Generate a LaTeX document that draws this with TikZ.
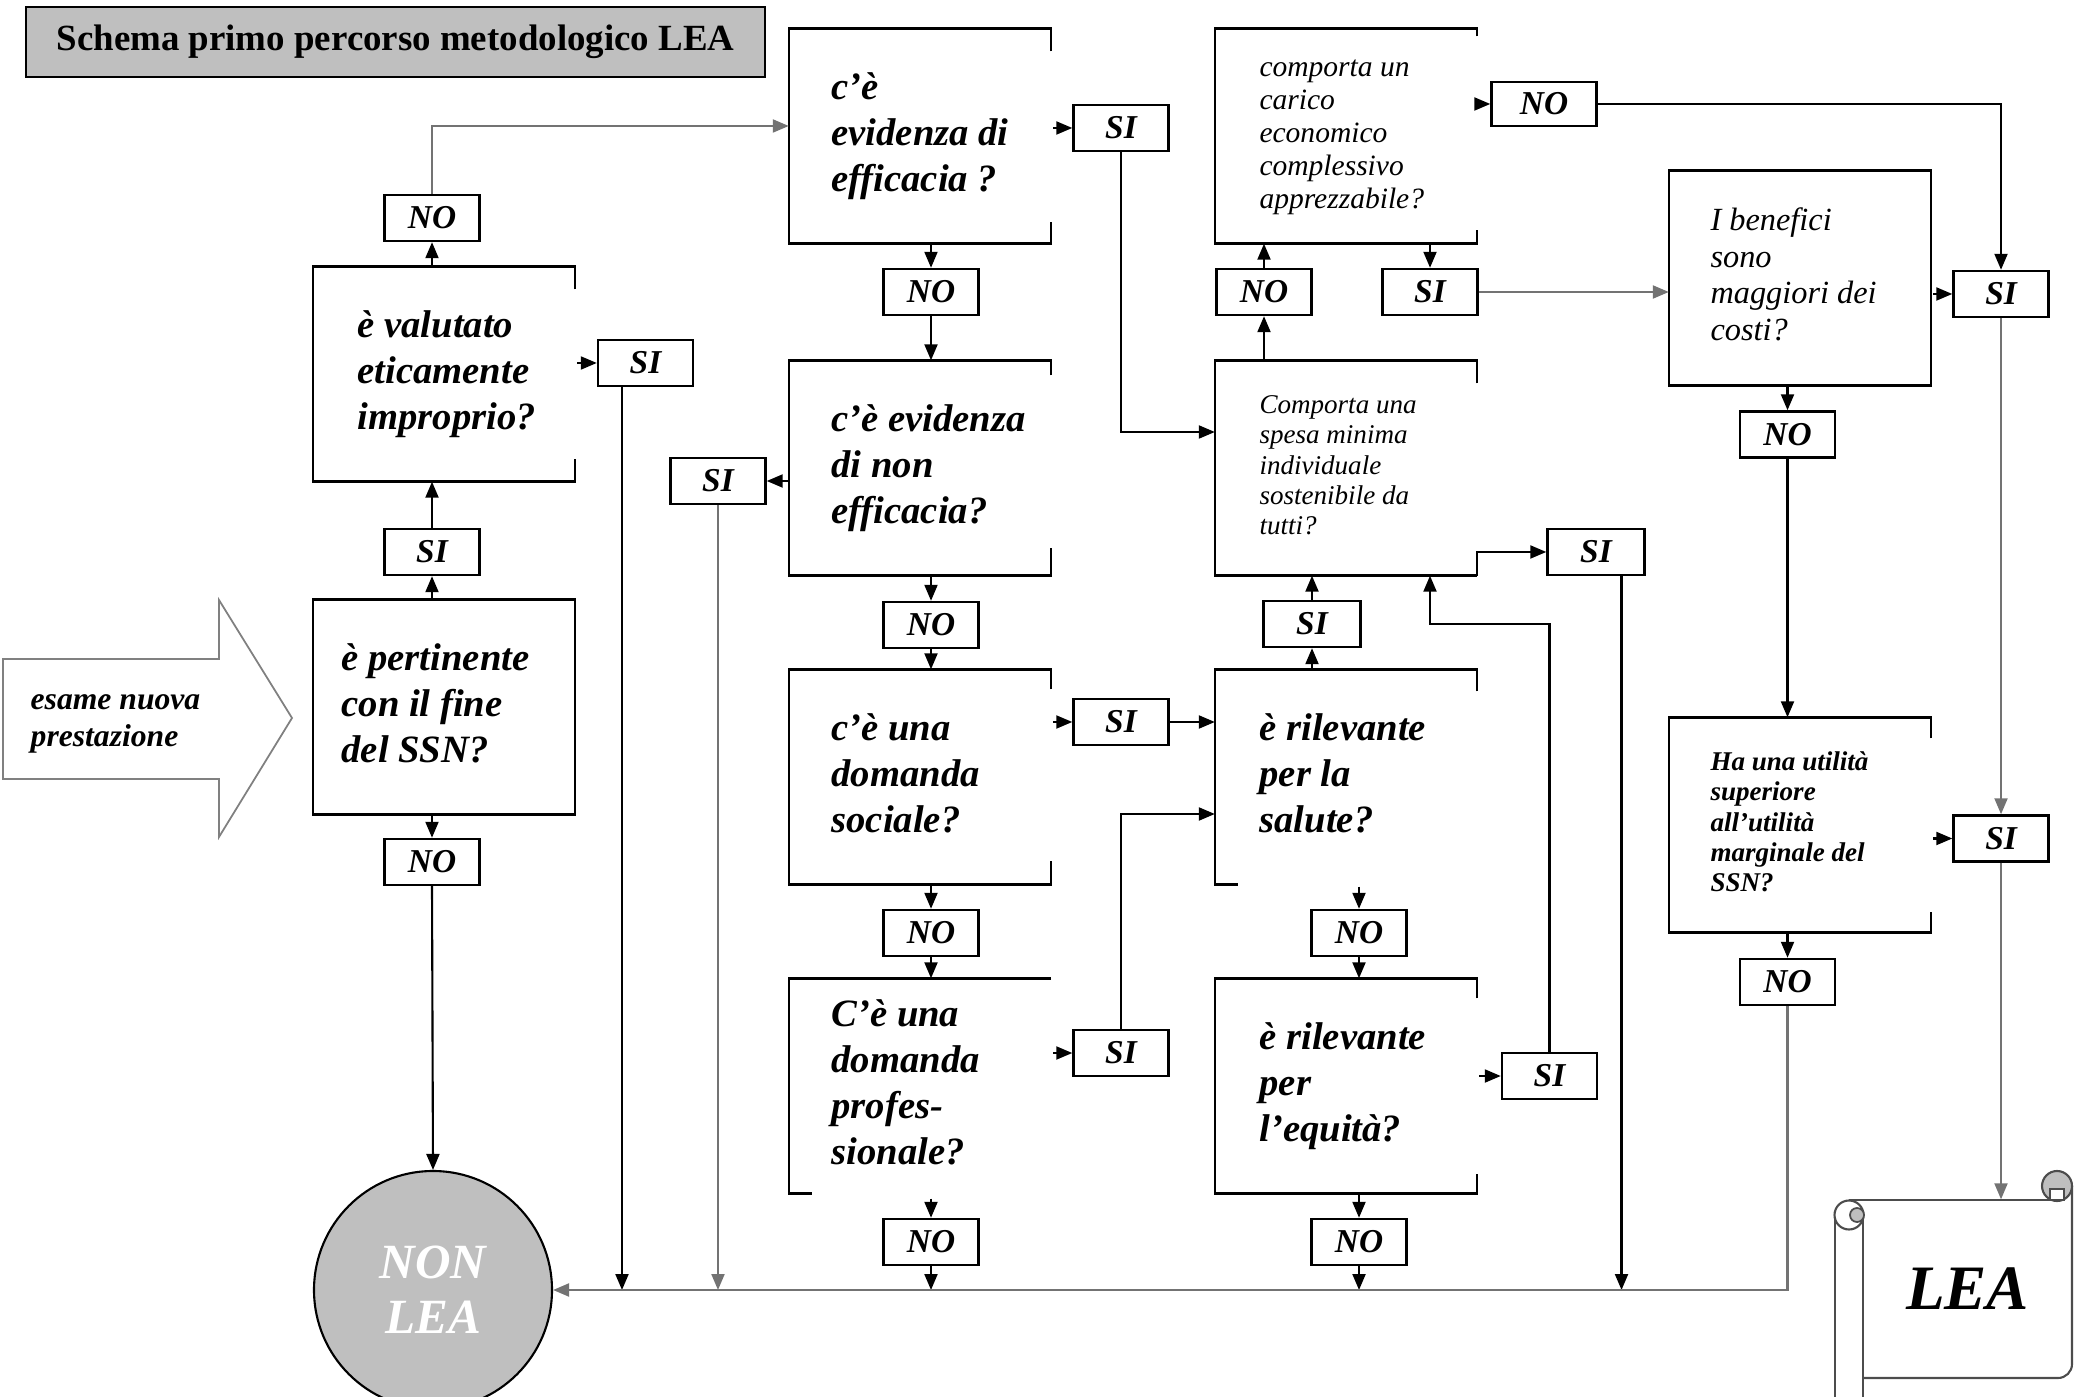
\documentclass[tikz,border=0pt]{standalone}
\usepackage{fontspec}
\setmainfont{Liberation Serif}
\usetikzlibrary{arrows.meta,calc}
\definecolor{grigio}{gray}{0.75}
\def\testo#1#2{\hspace*{#1}\makebox[\dimexpr26.1mm-#1\relax][l]{\begin{tabular}{@{}l@{}}#2\end{tabular}}}
\def\aperto(#1)(#2:#3){\draw[bordo] ([yshift=-#2]#1.north east) -- (#1.north east) -- (#1.north west) -- (#1.south west) -- (#1.south east) -- ([yshift=#3]#1.south east);}
\tikzset{
	bordo/.style={line width=0.7pt},
	domanda/.style={minimum width=26.1mm, minimum height=21.4mm, inner sep=0pt, font=\fontsize{11}{13.1}\selectfont\bfseries\itshape},
	risposta/.style={draw, bordo, minimum width=9.5mm, minimum height=4.6mm, inner sep=0pt, font=\fontsize{9.5}{10}\selectfont\bfseries\itshape},
	freccia/.style={line width=0.6pt, -{Triangle[length=1.6mm,width=1.3mm]}},
	grigia/.style={draw=black!55},
}
\begin{document}
\begin{tikzpicture}[x=0.1mm,y=-0.1mm]
			%%%%% START %%%%%
			\useasboundingbox (0,0) rectangle (2074,1397);
			
			\node[draw, bordo, fill=grigio, minimum width=73.9mm, minimum height=7mm, inner sep=0pt, font=\fontsize{10.5}{12}\selectfont\bfseries] (titolo) at (395.5,42) {Schema primo percorso metodologico LEA};
			
			\draw[line width=0.5pt, draw=black!50, fill=white] (3,659) -- (219,659) -- (219,600) -- (292,718) -- (219,837) -- (219,779) -- (3,779) -- cycle;
			\node[anchor=west, align=left, inner sep=0pt, font=\fontsize{9}{10.5}\selectfont\bfseries\itshape] (esame) at (30,724) {esame nuova\\prestazione};
			
			% domande
			\node[domanda] (pertinente) at (444,707) {\testo{2.8mm}{è pertinente\\con il fine\\del SSN?}};
			\node[domanda] (etico) at (444,374) {\testo{4.4mm}{è valutato\\eticamente\\improprio?}};
			\node[domanda] (efficacia) at (920,136) {\testo{4.2mm}{c’è\\evidenza di\\efficacia ?}};
			\node[domanda] (nonefficacia) at (920,468) {\testo{4.2mm}{\raisebox{1mm}{\begin{tabular}{@{}l@{}}c’è evidenza\\di non\\efficacia?\end{tabular}}}};
			\node[domanda] (sociale) at (920,777) {\testo{4.2mm}{c’è una\\domanda\\sociale?}};
			\node[domanda] (professionale) at (920,1086) {\testo{4.2mm}{C’è una\\domanda\\profes-\\sionale?}};
			\node[domanda, font=\fontsize{8.4}{9.4}\selectfont\itshape] (carico) at (1346,136) {\testo{4.4mm}{comporta un\\carico\\economico\\complessivo\\apprezzabile?}};
			\node[domanda, font=\fontsize{7.7}{8.6}\selectfont\itshape] (spesa) at (1346,468) {\testo{4.4mm}{Comporta una\\spesa minima\\individuale\\sostenibile da\\tutti?}};
			\node[domanda] (salute) at (1346,777) {\testo{4.4mm}{è rilevante\\per la\\salute?}};
			\node[domanda] (equita) at (1346,1086) {\testo{4.4mm}{è rilevante\\per\\l’equità?}};
			\node[domanda, font=\fontsize{9.2}{10.4}\selectfont\itshape] (benefici) at (1800,278) {\testo{4.1mm}{I benefici\\sono\\maggiori dei\\costi?}};
			\node[domanda, font=\fontsize{7.7}{8.6}\selectfont\bfseries\itshape] (utilita) at (1800,825) {\testo{4.1mm}{Ha una utilità\\superiore\\all’utilità\\marginale del\\SSN?}};
			
			\draw[bordo] (pertinente.north west) rectangle (pertinente.south east);
			\draw[bordo] (benefici.north west) rectangle (benefici.south east);
			\aperto(etico)(2.3mm:2.3mm)
			\aperto(efficacia)(2.3mm:2.2mm)
			\aperto(nonefficacia)(1.5mm:2.8mm)
			\aperto(sociale)(2.0mm:2.4mm)
			\aperto(carico)(0.8mm:1.4mm)
			\aperto(equita)(2.0mm:2.0mm)
			\aperto(utilita)(2.1mm:2.1mm)
			\draw[bordo] ([yshift=-2.3mm]spesa.north east) -- (spesa.north east) -- (spesa.north west) -- (spesa.south west) -- (spesa.south east);
			\draw[bordo] ([yshift=-2.2mm]salute.north east) -- (salute.north east) -- (salute.north west) -- (salute.south west) -- ([xshift=2.3mm]salute.south west);
			\draw[bordo] (professionale.north east) -- (professionale.north west) -- (professionale.south west) -- ([xshift=2.3mm]professionale.south west);
			
			% risposte
			\node[risposta] (siPert) at (432,552) {SI};
			\node[risposta] (noPert) at (432,862) {NO};
			\node[risposta] (noEtico) at (432,218) {NO};
			\node[risposta] (siEtico) at (645.5,363) {SI};
			\node[risposta] (siEff) at (1121,128) {SI};
			\node[risposta] (noEff) at (931,292) {NO};
			\node[risposta] (siNonEff) at (718,481) {SI};
			\node[risposta] (noNonEff) at (931,625) {NO};
			\node[risposta] (siSoc) at (1121,722) {SI};
			\node[risposta] (noSoc) at (931,933) {NO};
			\node[risposta] (siProf) at (1121,1053) {SI};
			\node[risposta] (noProf) at (931,1242) {NO};
			\node[risposta, minimum width=10.5mm, minimum height=4.4mm] (noCarico) at (1544,104) {NO};
			\node[risposta] (siCarico) at (1430,292) {SI};
			\node[risposta] (noSpesa) at (1264,292) {NO};
			\node[risposta, minimum width=9.7mm] (siSpesa) at (1596,552) {SI};
			\node[risposta, minimum width=9.7mm] (siSalute) at (1312,624) {SI};
			\node[risposta] (noSalute) at (1359,933) {NO};
			\node[risposta] (siEquita) at (1549.5,1076) {SI};
			\node[risposta] (noEquita) at (1359,1242) {NO};
			\node[risposta] (siBen) at (2001,294) {SI};
			\node[risposta] (noBen) at (1787.5,434.5) {NO};
			\node[risposta] (siUtil) at (2001,838.5) {SI};
			\node[risposta] (noUtil) at (1787.5,982) {NO};
			
			% esiti
			\node[circle, draw, line width=0.6pt, fill=grigio, minimum size=23.8mm, inner sep=0pt, align=center, text=white, font=\fontsize{14}{15.6}\selectfont\bfseries\itshape] (nonlea) at (433,1290) {NON\\LEA};
			\node[minimum width=20.9mm, minimum height=17.8mm, inner sep=0pt, font=\fontsize{18}{18}\selectfont\bfseries\itshape] (lea) at (1967.5,1289) {LEA};
			\draw[line width=0.6pt, draw=black!70, rounded corners=1.4mm] (1863,1378) -- (2072,1378) -- (2072,1186);
			\draw[line width=0.6pt, draw=black!70] (1849,1200) -- (2057,1200);
			\draw[line width=0.6pt, draw=black!70, fill=grigio] (2057,1186) circle (1.5mm);
			\draw[line width=0.5pt, draw=black!70, fill=white] (2050,1200) rectangle (2064,1189);
			\draw[line width=0.6pt, draw=black!70] (1835,1215) -- (1835,1397) (1863,1215) -- (1863,1397);
			\draw[line width=0.6pt, draw=black!70, fill=white] (1849,1215) circle (1.45mm);
			\draw[line width=0.5pt, draw=black!70, fill=grigio] (1857,1215) circle (0.7mm);
			
			% gomiti
			\coordinate (gomitoC) at (432,126);
			\coordinate (gomitoG) at (1121,432);
			\coordinate (gomitoH) at (1121,814);
			\coordinate (gomitoI) at (1430,624);
			\coordinate (caduta1) at ([xshift=-2.35mm]siEtico.south);
			\coordinate (caduta2) at ([xshift=2.55mm]siSpesa.south);
			
			% frecce
			\draw[freccia] (siPert |- pertinente.north) -- (siPert.south);
			\draw[freccia] (siPert.north) -- (siPert |- etico.south);
			\draw[freccia] (noPert |- pertinente.south) -- (noPert.north);
			\draw[freccia] (noPert.south) -- (nonlea.north);
			\draw[freccia] (noEtico |- etico.north) -- (noEtico.south);
			\draw[freccia, grigia] (noEtico.north) -- (gomitoC) -- (efficacia.west |- gomitoC);
			\draw[freccia, shorten <=0.2mm] (etico.east |- siEtico.west) -- (siEtico.west);
			\draw[freccia] (caduta1) -- (caduta1 |- nonlea.east);
			
			\draw[freccia, shorten <=0.2mm] (efficacia.east |- siEff.west) -- (siEff.west);
			\draw[freccia] (siEff.south) -- (gomitoG) -- (spesa.west |- gomitoG);
			\draw[freccia] (noEff |- efficacia.south) -- (noEff.north);
			\draw[freccia] (noEff.south) -- (noEff |- nonefficacia.north);
			\draw[freccia] (nonefficacia.west |- siNonEff.east) -- (siNonEff.east);
			\draw[freccia, grigia] (siNonEff.south) -- (siNonEff |- nonlea.east);
			\draw[freccia] (noNonEff |- nonefficacia.south) -- (noNonEff.north);
			\draw[freccia] (noNonEff.south) -- (noNonEff |- sociale.north);
			\draw[freccia, shorten <=0.2mm] (sociale.east |- siSoc.west) -- (siSoc.west);
			\draw[freccia] (siSoc.east) -- (salute.west |- siSoc.east);
			\draw[freccia] (noSoc |- sociale.south) -- (noSoc.north);
			\draw[freccia] (noSoc.south) -- (noSoc |- professionale.north);
			\draw[freccia, shorten <=0.2mm] (professionale.east |- siProf.west) -- (siProf.west);
			\draw[freccia] (siProf.north) -- (gomitoH) -- (salute.west |- gomitoH);
			\draw[freccia, shorten <=0.5mm] (noProf |- professionale.south) -- (noProf.north);
			\draw[freccia] (noProf.south) -- (noProf |- nonlea.east);
			
			\draw[freccia] (noSpesa |- spesa.north) -- (noSpesa.south);
			\draw[freccia] (noSpesa.north) -- (noSpesa |- carico.south);
			\draw[freccia] (spesa.south east) |- (siSpesa.west);
			\draw[freccia] (caduta2) -- (caduta2 |- nonlea.east);
			\draw[freccia, shorten <=0.2mm] (carico.east |- noCarico.west) -- (noCarico.west);
			\draw[freccia] (noCarico.east) -| (siBen.north);
			\draw[freccia] (siCarico |- carico.south) -- (siCarico.north);
			\draw[freccia, grigia] (siCarico.east) -- (benefici.west |- siCarico.east);
			\draw[freccia] (siSalute |- salute.north) -- (siSalute.south);
			\draw[freccia] (siSalute.north) -- (siSalute |- spesa.south);
			\draw[freccia, shorten <=0.2mm] (noSalute |- salute.south) -- (noSalute.north);
			\draw[freccia] (noSalute.south) -- (noSalute |- equita.north);
			\draw[freccia, shorten <=0.2mm] (equita.east |- siEquita.west) -- (siEquita.west);
			\draw[freccia] (siEquita.north) -- (siEquita |- gomitoI) -- (gomitoI) -- (gomitoI |- spesa.south);
			\draw[freccia] (noEquita |- equita.south) -- (noEquita.north);
			\draw[freccia] (noEquita.south) -- (noEquita |- nonlea.east);
			
			\draw[freccia, shorten <=0.2mm] (benefici.east |- siBen.west) -- (siBen.west);
			\draw[freccia, grigia] (siBen.south) -- (siUtil.north);
			\draw[freccia] (noBen |- benefici.south) -- (noBen.north);
			\draw[freccia] (noBen.south) -- (noBen |- utilita.north);
			\draw[freccia, shorten <=0.2mm] (utilita.east |- siUtil.west) -- (siUtil.west);
			\draw[freccia, grigia] (siUtil.south) -- (siUtil |- lea.north);
			\draw[freccia] (noUtil |- utilita.south) -- (noUtil.north);
			\draw[freccia, grigia] (noUtil.south) |- (nonlea.east);
			
			%%%%% END %%%%%
\end{tikzpicture}
\end{document}
